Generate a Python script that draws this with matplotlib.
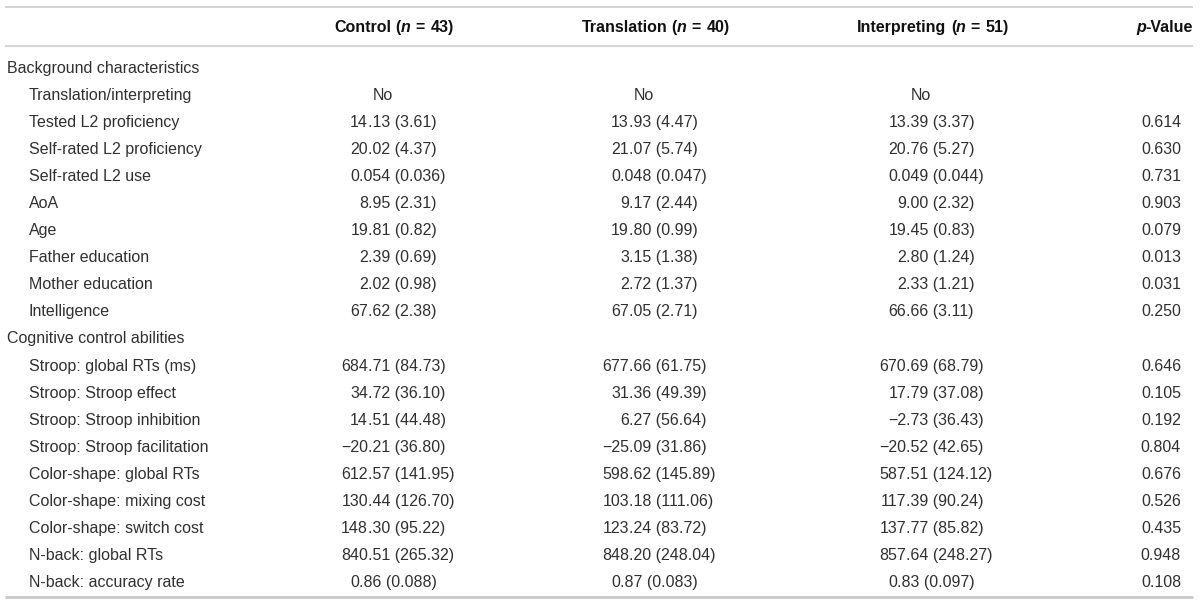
import matplotlib
matplotlib.use("Agg")
import matplotlib.pyplot as plt

# ---------------- data ----------------
headers = ["Control", "Translation", "Interpreting"]
group_n = ["43", "40", "51"]

row_labels = [
    "Background characteristics",
    "Translation/interpreting",
    "Tested L2 proficiency",
    "Self-rated L2 proficiency",
    "Self-rated L2 use",
    "AoA",
    "Age",
    "Father education",
    "Mother education",
    "Intelligence",
    "Cognitive control abilities",
    "Stroop: global RTs (ms)",
    "Stroop: Stroop effect",
    "Stroop: Stroop inhibition",
    "Stroop: Stroop facilitation",
    "Color-shape: global RTs",
    "Color-shape: mixing cost",
    "Color-shape: switch cost",
    "N-back: global RTs",
    "N-back: accuracy rate",
]
is_section = [True, False, False, False, False, False, False, False, False, False,
              True, False, False, False, False, False, False, False, False, False]

control = ["", "No", "14.13 (3.61)", "20.02 (4.37)", "0.054 (0.036)", "8.95 (2.31)",
           "19.81 (0.82)", "2.39 (0.69)", "2.02 (0.98)", "67.62 (2.38)", "",
           "684.71 (84.73)", "34.72 (36.10)", "14.51 (44.48)", "\u221220.21 (36.80)",
           "612.57 (141.95)", "130.44 (126.70)", "148.30 (95.22)", "840.51 (265.32)",
           "0.86 (0.088)"]
translation = ["", "No", "13.93 (4.47)", "21.07 (5.74)", "0.048 (0.047)", "9.17 (2.44)",
               "19.80 (0.99)", "3.15 (1.38)", "2.72 (1.37)", "67.05 (2.71)", "",
               "677.66 (61.75)", "31.36 (49.39)", "6.27 (56.64)", "\u221225.09 (31.86)",
               "598.62 (145.89)", "103.18 (111.06)", "123.24 (83.72)", "848.20 (248.04)",
               "0.87 (0.083)"]
interpreting = ["", "No", "13.39 (3.37)", "20.76 (5.27)", "0.049 (0.044)", "9.00 (2.32)",
                "19.45 (0.83)", "2.80 (1.24)", "2.33 (1.21)", "66.66 (3.11)", "",
                "670.69 (68.79)", "17.79 (37.08)", "\u22122.73 (36.43)", "\u221220.52 (42.65)",
                "587.51 (124.12)", "117.39 (90.24)", "137.77 (85.82)", "857.64 (248.27)",
                "0.83 (0.097)"]
p_values = ["", "", "0.614", "0.630", "0.731", "0.903", "0.079", "0.013", "0.031", "0.250",
            "", "0.646", "0.105", "0.192", "0.804", "0.676", "0.526", "0.435", "0.948",
            "0.108"]

# ---------------- layout ----------------
W, H = 1200, 601
FONT = "Liberation Sans"
FS = 11.5
BODY = "#303030"
HEAD = "#111111"
LINE = "#c9c9c9"

fig = plt.figure(figsize=(W / 100, H / 100), dpi=100)
ax = fig.add_axes([0, 0, 1, 1])
ax.set_xlim(0, W)
ax.set_ylim(H, 0)
ax.axis("off")
renderer = fig.canvas.get_renderer()


def twidth(s, **kw):
    t = ax.text(0, 0, s, fontfamily=FONT, fontsize=FS, **kw)
    w = t.get_window_extent(renderer).width
    t.remove()
    return w


SP = twidth("a a", fontweight="bold") - twidth("aa", fontweight="bold")
WIDE_SP = SP + 1.6


def piece_w(s, st):
    if s == " ":
        return SP
    if s == "_":
        return WIDE_SP
    return twidth(s, fontweight="bold", fontstyle=st)


def draw_runs(x, y, runs, ha="center"):
    total = sum(piece_w(s, st) for s, st in runs)
    if ha == "center":
        x0 = x - total / 2
    elif ha == "right":
        x0 = x - total
    else:
        x0 = x
    for s, st in runs:
        if s not in (" ", "_"):
            ax.text(x0, y, s, fontfamily=FONT, fontsize=FS, fontweight="bold",
                    fontstyle=st, color=HEAD, ha="left", va="baseline")
        x0 += piece_w(s, st)


# rules
ax.plot([5, 1193], [6.5, 6.5], color=LINE, lw=1.1, solid_capstyle="butt")
ax.plot([5, 1193], [46, 46], color=LINE, lw=1.1, solid_capstyle="butt")
ax.plot([5, 1193], [597, 597], color=LINE, lw=2.0, solid_capstyle="butt")

# header
head_y = 32
head_centers = [394, 655.5, 933]
for name, n, xc in zip(headers, group_n, head_centers):
    runs = [(name, "normal"), (" ", None), ("(", "normal"), ("n", "italic"),
            (" ", None), ("=", "normal"), ("_", None), (n + ")", "normal")]
    draw_runs(xc, head_y, runs, "center")
draw_runs(1193, head_y, [("p", "italic"), ("-Value", "normal")], "right")

# body
row0, step = 67.5, 27.05
base_off = 5.5
anchors = [368, 629, 906]
digit_w = twidth("0")
columns = [control, translation, interpreting]

for i, lab in enumerate(row_labels):
    yb = row0 + step * i + base_off
    xl = 7 if is_section[i] else 29
    ax.text(xl, yb, lab, fontfamily=FONT, fontsize=FS, color=BODY,
            ha="left", va="baseline")
    for col, xa in zip(columns, anchors):
        cell = col[i]
        if not cell:
            continue
        if "." not in cell:
            ax.text(xa + 15, yb, cell, fontfamily=FONT, fontsize=FS, color=BODY,
                    ha="center", va="baseline")
            continue
        ipart, rest = cell.split(".", 1)
        xd = xa - digit_w if ipart == "0" else xa
        ax.text(xd, yb, ipart, fontfamily=FONT, fontsize=FS, color=BODY,
                ha="right", va="baseline")
        ax.text(xd, yb, "." + rest, fontfamily=FONT, fontsize=FS, color=BODY,
                ha="left", va="baseline")
    if p_values[i]:
        ax.text(1181, yb, p_values[i], fontfamily=FONT, fontsize=FS, color=BODY,
                ha="right", va="baseline")

fig.savefig("out.png", dpi=100)
